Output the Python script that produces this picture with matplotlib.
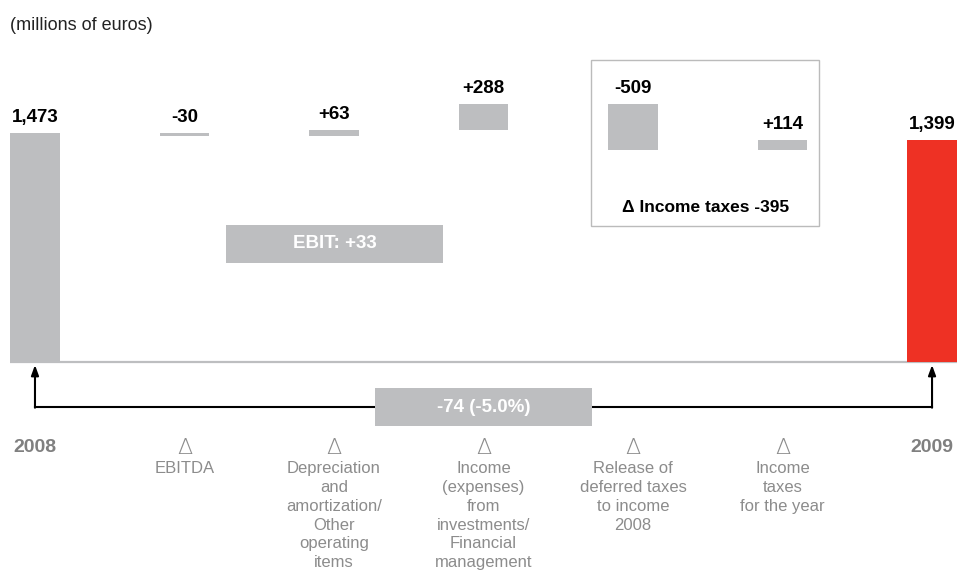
import numpy as np
import matplotlib
matplotlib.use('Agg')
import matplotlib.pyplot as plt
import matplotlib.transforms as mtransforms
from matplotlib.patches import Rectangle

# values in millions of euros
start_year = '2008'
end_year = '2009'
start_value = 1473
end_value = 1399
delta_names = ['EBITDA',
               'Depreciation\nand\namortization/\nOther\noperating\nitems',
               'Income\n(expenses)\nfrom\ninvestments/\nFinancial\nmanagement',
               'Release of\ndeferred taxes\nto income\n2008',
               'Income\ntaxes\nfor the year']
deltas = [-30, 63, 288, -509, 114]

GRAY = '#bdbec0'
RED = '#ee3124'
TEXT_GRAY = '#8c8c8c'
W, H = 957, 570

# piecewise scale: totals up to BREAK are squeezed into the lower part,
# the changes above it are drawn on a finer scale (pixels per million)
BREAK = 1200.0
HIGH = 0.09
LOW = (229 - (start_value - BREAK) * HIGH) / BREAK


def to_px(y):
    y = np.asarray(y, dtype=float)
    return np.where(y <= BREAK, y * LOW, BREAK * LOW + (y - BREAK) * HIGH)


def from_px(v):
    v = np.asarray(v, dtype=float)
    return np.where(v <= BREAK * LOW, v / LOW, BREAK + (v - BREAK * LOW) / HIGH)


def fmt(v, sign=True):
    s = f'{v:,}'
    return ('+' + s) if (sign and v > 0) else s


fig = plt.figure(figsize=(W / 100, H / 100), dpi=100)
ax = fig.add_axes([0, 0, 1, 1])
ax.set_yscale('function', functions=(to_px, from_px))
ax.set_xlim(-0.234, 6.167)
ax.set_ylim(float(from_px(-208)), float(from_px(362)))
ax.axis('off')

# pixel coordinates measured from the top-left corner
px = mtransforms.Affine2D().scale(1 / W, -1 / H).translate(0, 1) + fig.transFigure
xcat = mtransforms.blended_transform_factory(ax.transData, px)

sans = ['Liberation Sans', 'DejaVu Sans']
bold = dict(family=sans, fontweight='bold')

x = np.arange(len(deltas) + 2)
width = 0.334
levels = start_value + np.concatenate([[0], np.cumsum(deltas)])
bottoms = np.minimum(levels[:-1], levels[1:])
tops = np.maximum(levels[:-1], levels[1:])

ax.plot([x[0] - width / 2, x[-1] + width / 2], [0, 0], color=GRAY, lw=1.6, zorder=1,
        solid_capstyle='butt')
ax.bar(x[0], start_value, width, color=GRAY, zorder=2)
ax.bar(x[1:-1], np.abs(deltas), width, bottom=bottoms, color=GRAY, zorder=2)
ax.bar(x[-1], end_value, width, color=RED, zorder=2)

labels = [fmt(start_value, False)] + [fmt(d) for d in deltas] + [fmt(end_value, False)]
label_tops = [start_value] + list(tops) + [end_value]
for xi, lab, top in zip(x, labels, label_tops):
    ax.annotate(lab, (xi, top), xytext=(0, 5), textcoords='offset points',
                ha='center', va='bottom', fontsize=13.5, color='black', **bold)

# category captions
ax.text(x[0], 448, start_year, transform=xcat, ha='center', va='center',
        fontsize=14, color='#808080', **bold)
ax.text(x[-1], 448, end_year, transform=xcat, ha='center', va='center',
        fontsize=14, color='#808080', **bold)
for xi, name in zip(x[1:-1], delta_names):
    ax.text(xi, 448, '\u0394', transform=xcat, ha='center', va='center',
            fontsize=16, color=TEXT_GRAY, family=['DejaVu Sans'], fontweight='light')
    ax.text(xi, 461, name, transform=xcat, ha='center', va='top',
            fontsize=12, color=TEXT_GRAY, family=sans, linespacing=1.32)

ax.text(10, 25, '(millions of euros)', transform=px, ha='left', va='center',
        fontsize=13, color='#222222', family=sans)

# EBIT subtotal box
ebit = sum(deltas[:2])
ax.add_patch(Rectangle((226, 225), 217, 38, transform=px, color=GRAY, zorder=3, lw=0))
ax.text(334.5, 244, f'EBIT: {fmt(ebit)}', transform=px, ha='center', va='center',
        fontsize=13.5, color='white', zorder=4, **bold)

# income taxes frame
taxes = sum(deltas[3:])
ax.add_patch(Rectangle((591, 60), 228, 166, transform=px, facecolor='none',
                       edgecolor='#bbbbbb', lw=1.0, zorder=1))
ax.text(706, 207, f'\u0394 Income taxes {fmt(taxes)}', transform=px, ha='center',
        va='center', fontsize=12.5, color='black', **bold)

# overall change arrow
change = end_value - start_value
pct = change / start_value * 100
ax.plot([x[0], x[-1]], [407, 407], transform=xcat, color='black', lw=1.5, zorder=2)
for xi in (x[0], x[-1]):
    ax.annotate('', xy=(xi, 365), xycoords=xcat, xytext=(xi, 407.7), textcoords=xcat,
                arrowprops=dict(arrowstyle='-|>,head_length=0.6,head_width=0.22',
                                color='black', lw=1.5, shrinkA=0, shrinkB=0))
ax.add_patch(Rectangle((375, 388), 217, 38, transform=px, color=GRAY, zorder=3, lw=0))
ax.text(483.5, 407, f'{change} ({pct:.1f}%)', transform=px, ha='center', va='center',
        fontsize=13.5, color='white', zorder=4, **bold)

fig.savefig('out.png', dpi=100)
